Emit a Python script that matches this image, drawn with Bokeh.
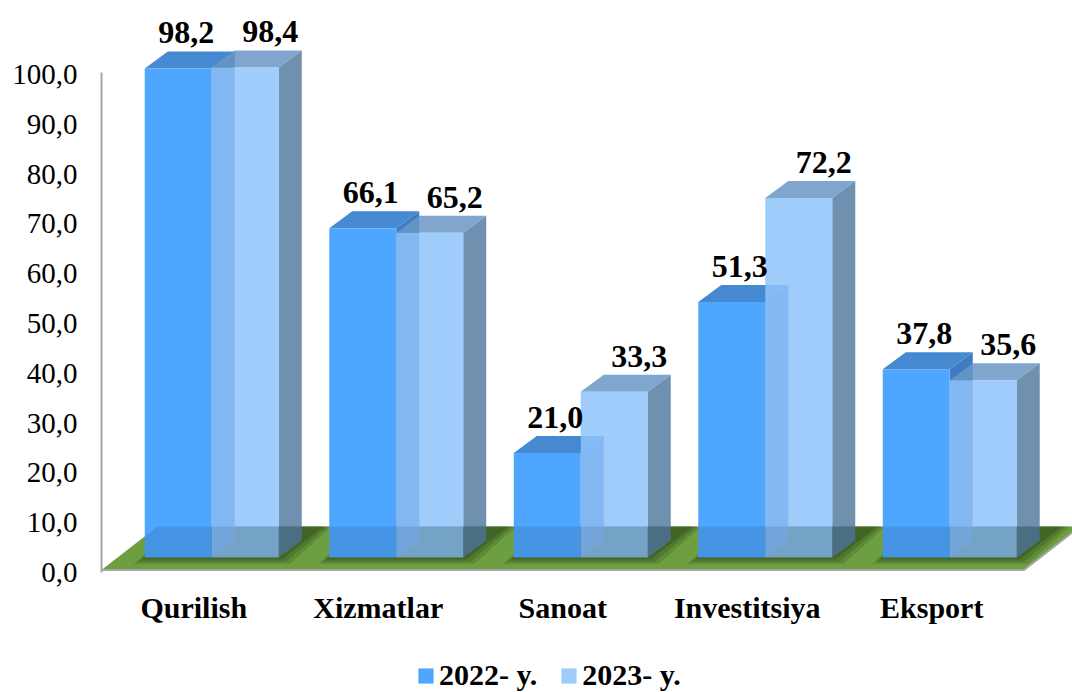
from bokeh.plotting import figure
from bokeh.models import Range1d, LinearAxis, FixedTicker, Legend, LegendItem
from bokeh.core.properties import value
from bokeh.embed import file_html
from bokeh.resources import INLINE

# ---------------- data ----------------
categories = ["Qurilish", "Xizmatlar", "Sanoat", "Investitsiya", "Eksport"]
series_names = ["2022- y.", "2023- y."]
values_2022 = [98.2, 66.1, 21.0, 51.3, 37.8]
values_2023 = [98.4, 65.2, 33.3, 72.2, 35.6]
y_ticks = [0, 10, 20, 30, 40, 50, 60, 70, 80, 90, 100]
y_tick_labels = ["0,0", "10,0", "20,0", "30,0", "40,0", "50,0",
                 "60,0", "70,0", "80,0", "90,0", "100,0"]


def fmt(v):
    return f"{v:.1f}".replace(".", ",")


# ---------------- geometry (pixel scale -> data units) ----------------
W, H = 1072, 692
FRAME_LEFT = 101
PX_X = 184.5          # pixels per category
PX_Y = 4.98           # pixels per value unit
ZERO_PX = 557         # canvas y of the bars' base (front)
Y0 = -(H - ZERO_PX) / PX_Y
Y1 = Y0 + H / PX_Y
X0 = -0.5
X1 = X0 + (W - FRAME_LEFT) / PX_X
AXIS_SHIFT = 15 / PX_Y

BAR_W = 67 / PX_X
SHIFT = 18 / PX_X
DX = 23 / PX_X
DY = 17 / PX_Y
FLOOR_Y = -12.5 / PX_Y
FLOOR_DX = 56 / PX_X
FLOOR_DY = 43.5 / PX_Y
SLOPE = 23 / 17  # px x per px y of depth direction

FONT = value("Liberation Serif")

C22_FRONT, C22_TOP, C22_SIDE = "#4FA6FF", "#4589D0", "#3D7CC2"
C23_FRONT, C23_TOP, C23_SIDE = "#8FC3FB", "#6A96C5", "#577CA2"
A23 = 0.85

p = figure(width=W, height=H, x_range=Range1d(X0, X1), y_range=Range1d(Y0, Y1),
           output_backend="svg", toolbar_location=None,
           min_border_left=FRAME_LEFT, min_border_right=0,
           min_border_top=0, min_border_bottom=0,
           x_axis_location=None, y_axis_location=None,
           outline_line_color=None, background_fill_color="white",
           border_fill_color="white")
p.grid.visible = False
p.extra_y_ranges = {"ax": Range1d(Y0 + AXIS_SHIFT, Y1 + AXIS_SHIFT)}

n = len(categories)
FL, FR = -0.5, n - 0.5

# floor
p.patch([FL, FR, FR + FLOOR_DX, FL + FLOOR_DX],
        [FLOOR_Y, FLOOR_Y, FLOOR_Y + FLOOR_DY, FLOOR_Y + FLOOR_DY],
        fill_color="#7BB044", line_color=None)

# soft shadows of the bars on the floor
back_y = FLOOR_Y + FLOOR_DY
back_dx = (back_y * PX_Y) * SLOPE / PX_X
for e, a in [(11, 0.18), (7, 0.22), (3, 0.28)]:
    xs, ys = [], []
    for i in range(n):
        L = i + SHIFT - BAR_W - e / PX_X
        R = i + SHIFT + BAR_W + e / PX_X
        b = -e * 0.6 / PX_Y
        xs.append([L, R, R + back_dx, L + back_dx])
        ys.append([b, b, back_y, back_y])
    p.patches(xs, ys, fill_color="#24380F", fill_alpha=a, line_color=None)


def bar_faces(lefts, vals):
    fx0, fx1, fb, ft = [], [], [], []
    tx, ty, sx, sy = [], [], [], []
    for l, v in zip(lefts, vals):
        r = l + BAR_W
        fx0.append(l); fx1.append(r); fb.append(0); ft.append(v)
        tx.append([l, r, r + DX, l + DX]); ty.append([v, v, v + DY, v + DY])
        sx.append([r, r + DX, r + DX, r]); sy.append([0, DY, v + DY, v])
    return fx0, fx1, fb, ft, tx, ty, sx, sy


idx = list(range(n))
left22 = [i + SHIFT - BAR_W for i in idx]
left23 = [i + SHIFT for i in idx]

f0, f1, fb, ft, tx, ty, sx, sy = bar_faces(left22, values_2022)
p.patches(sx, sy, fill_color=C22_SIDE, line_color=None)
p.patches(tx, ty, fill_color=C22_TOP, line_color=None)
r22 = p.quad(left=f0, right=f1, bottom=fb, top=ft, fill_color=C22_FRONT, line_color=None)

f0, f1, fb, ft, tx, ty, sx, sy = bar_faces(left23, values_2023)
p.patches(sx, sy, fill_color=C23_SIDE, fill_alpha=A23, line_color=None)
p.patches(tx, ty, fill_color=C23_TOP, fill_alpha=A23, line_color=None)
r23 = p.quad(left=f0, right=f1, bottom=fb, top=ft, fill_color=C23_FRONT,
             fill_alpha=A23, line_color=None)

# floor transparency over bar bottoms
p.patch([FL, FR, FR + FLOOR_DX, FL + FLOOR_DX],
        [FLOOR_Y, FLOOR_Y, FLOOR_Y + FLOOR_DY, FLOOR_Y + FLOOR_DY],
        fill_color="#0A1E2A", fill_alpha=0.12, line_color=None)

# floor outline (front and right edges)
p.line([FL, FR, FR + FLOOR_DX], [FLOOR_Y, FLOOR_Y, FLOOR_Y + FLOOR_DY],
       line_color="#A6A6A6", line_width=2)

# data labels
gap = 18.5 / PX_Y
p.text(x=[l + BAR_W / 2 + 8 / PX_X for l in left22],
       y=[v + DY + gap for v in values_2022],
       text=[fmt(v) for v in values_2022], text_font=FONT, text_font_style="bold",
       text_font_size="32px", text_align="center", text_baseline="middle",
       text_color="black")
p.text(x=[l + BAR_W / 2 + 25 / PX_X for l in left23],
       y=[v + DY + gap for v in values_2023],
       text=[fmt(v) for v in values_2023], text_font=FONT, text_font_style="bold",
       text_font_size="32px", text_align="center", text_baseline="middle",
       text_color="black")

# category labels
p.text(x=idx, y=[-50 / PX_Y] * n, text=categories, text_font=FONT,
       text_font_style="bold", text_font_size="30px", text_align="center",
       text_baseline="middle", text_color="black")

# y axis
yax = LinearAxis(y_range_name="ax", ticker=FixedTicker(ticks=y_ticks),
                 major_label_overrides={t: s for t, s in zip(y_ticks, y_tick_labels)},
                 axis_line_color="#A6A6A6", axis_line_width=2,
                 major_tick_line_color=None, minor_tick_line_color=None,
                 major_tick_out=0, major_tick_in=0,
                 major_label_text_font="Liberation Serif",
                 major_label_text_font_size="29px",
                 major_label_text_color="black",
                 major_label_standoff=24, bounds=(0, 100.4))
p.add_layout(yax, "left")

legend = Legend(items=[LegendItem(label=series_names[0], renderers=[r22]),
                       LegendItem(label=series_names[1], renderers=[r23])],
                orientation="horizontal", location=(315, 0),
                glyph_width=19, glyph_height=19, label_standoff=4, spacing=22,
                label_text_font="Liberation Serif", label_text_font_style="bold",
                label_text_font_size="30px", label_text_color="black",
                padding=0, margin=0, border_line_color=None,
                background_fill_alpha=0)
p.add_layout(legend)

open("out.html", "w").write(file_html(p, INLINE))
